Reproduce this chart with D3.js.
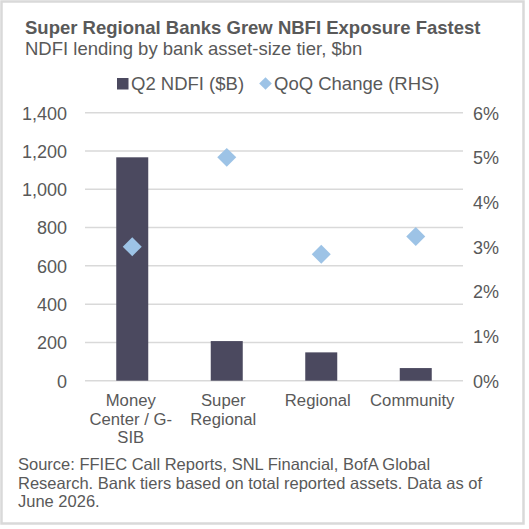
<!DOCTYPE html>
<html><head><meta charset="utf-8">
<script src="https://cdn.jsdelivr.net/npm/d3@7"></script>
<style>body{margin:0;background:#fff}svg{display:block;font-family:"Liberation Sans",Arial,sans-serif}</style>
</head><body><svg id="c" width="529" height="529"></svg>
<script>
const categories = ["Money Center / G-SIB", "Super Regional", "Regional", "Community"];
const categoryLines = [["Money", "Center / G-", "SIB"], ["Super", "Regional"], ["Regional"], ["Community"]];
const ndfi = [1167, 207, 148, 66];
const qoqChange = [3.0, 5.0, 2.83, 3.23];
const leftTicks = [0, 200, 400, 600, 800, 1000, 1200, 1400];
const rightTicks = [0, 1, 2, 3, 4, 5, 6];
const seriesNames = ["Q2 NDFI ($B)", "QoQ Change (RHS)"];
const title = "Super Regional Banks Grew NBFI Exposure Fastest";
const subtitle = "NDFI lending by bank asset-size tier, $bn";
const sourceLines = ["Source: FFIEC Call Reports, SNL Financial, BofA Global", "Research. Bank tiers based on total reported assets. Data as of", "June 2026."];

const svg = d3.select("#c");
const textCol = "#595959", barCol = "#4B495F", dmCol = "#9DC3E6", gridCol = "#D9D9D9";
svg.append("rect").attr("x", 1.5).attr("y", 1.5).attr("width", 522).attr("height", 522)
  .attr("fill", "#fff").attr("stroke", gridCol).attr("stroke-width", 2.5);

svg.append("text").attr("x", 25).attr("y", 34).attr("font-weight", "bold").attr("font-size", 18.5)
  .attr("fill", textCol).text(title);
svg.append("text").attr("x", 25).attr("y", 55).attr("font-size", 18.5).attr("fill", textCol).text(subtitle);

const x = d3.scaleBand().domain(categories).range([85, 463]).paddingInner(0.66).paddingOuter(0.33);
const yL = d3.scaleLinear().domain([0, 1400]).range([380.7, 112.7]);
const yR = d3.scaleLinear().domain([0, 6]).range([380.7, 112.7]);

// gridlines
svg.append("g").selectAll("line").data(leftTicks).join("line")
  .attr("x1", 85).attr("x2", 463).attr("y1", d => yL(d)).attr("y2", d => yL(d))
  .attr("stroke", gridCol).attr("stroke-width", 1.5);

// left axis
const gl = svg.append("g").attr("transform", "translate(67,0)")
  .call(d3.axisLeft(yL).tickValues(leftTicks).tickFormat(d3.format(",")).tickSize(0).tickPadding(0));
gl.select(".domain").remove();
gl.selectAll("text").attr("font-size", 18).attr("fill", textCol).attr("font-family", "Liberation Sans, Arial, sans-serif").attr("dy", "0.35em");

// right axis
const gr = svg.append("g").attr("transform", "translate(473,0)")
  .call(d3.axisRight(yR).tickValues(rightTicks).tickFormat(d => d + "%").tickSize(0).tickPadding(0));
gr.select(".domain").remove();
gr.selectAll("text").attr("font-size", 18).attr("fill", textCol).attr("font-family", "Liberation Sans, Arial, sans-serif").attr("dy", "0.35em");

// bars
const bw = 32;
svg.append("g").selectAll("rect").data(categories).join("rect")
  .attr("x", (d) => x(d) + x.bandwidth() / 2 - bw / 2)
  .attr("width", bw)
  .attr("y", (d, i) => yL(ndfi[i]))
  .attr("height", (d, i) => yL(0) - yL(ndfi[i]))
  .attr("fill", barCol);

// diamonds
const dsym = d3.symbol().type(d3.symbolSquare).size(180);
svg.append("g").selectAll("path").data(categories).join("path")
  .attr("d", dsym)
  .attr("transform", (d, i) => `translate(${x(d) + x.bandwidth() / 2},${yR(qoqChange[i])}) rotate(45)`)
  .attr("fill", dmCol);

// category labels
const cl = svg.append("g");
categories.forEach((c, i) => {
  const t = cl.append("text").attr("text-anchor", "middle").attr("font-size", 16.7).attr("fill", textCol);
  categoryLines[i].forEach((ln, j) => {
    t.append("tspan").attr("x", x(c) + x.bandwidth() / 2 - (i === 0 ? 1.5 : 3.5)).attr("y", 406 + j * 18.7).text(ln);
  });
});

// legend
const lg = svg.append("g");
lg.append("rect").attr("x", 117).attr("y", 78).attr("width", 11.5).attr("height", 11.5).attr("fill", barCol);
lg.append("text").attr("x", 131).attr("y", 89.5).attr("font-size", 18.5).attr("fill", textCol).text(seriesNames[0]);
lg.append("path").attr("d", d3.symbol().type(d3.symbolSquare).size(80)).attr("transform", "translate(265.5,83.5) rotate(45)").attr("fill", dmCol);
lg.append("text").attr("x", 274).attr("y", 89.5).attr("font-size", 18.5).attr("fill", textCol).text(seriesNames[1]);

// source
const st = svg.append("text").attr("font-size", 16.5).attr("fill", textCol);
sourceLines.forEach((ln, j) => st.append("tspan").attr("x", 18).attr("y", 470 + j * 18.7).text(ln));
</script></body></html>
